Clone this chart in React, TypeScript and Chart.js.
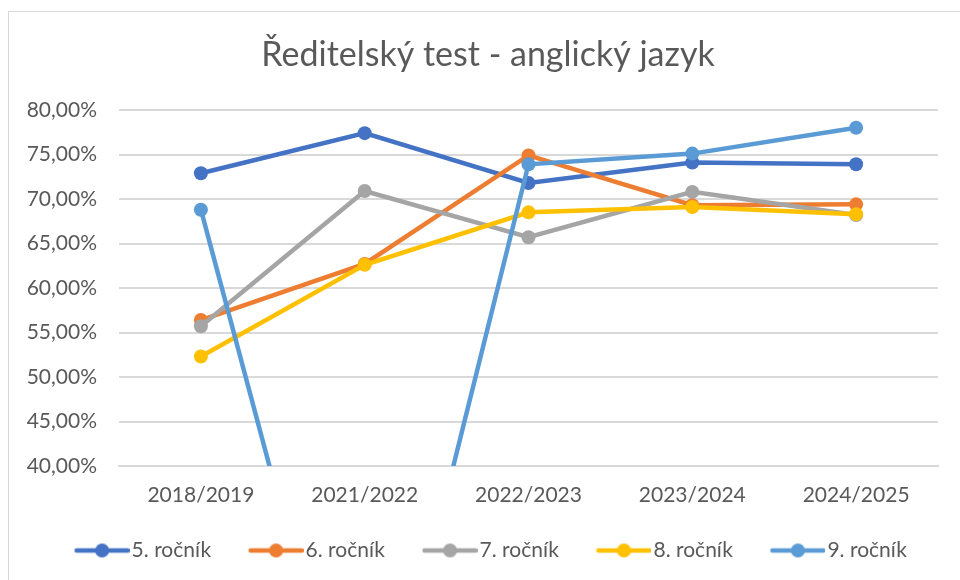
import React, { useEffect, useRef } from "react";
import { Chart, registerables } from "chart.js";

Chart.register(...registerables);

const TITLE = "Ředitelský test - anglický jazyk";
const categories = ["2018/2019", "2021/2022", "2022/2023", "2023/2024", "2024/2025"];
const seriesNames = ["5. ročník", "6. ročník", "7. ročník", "8. ročník", "9. ročník"];
const seriesColors = ["#4472C4", "#ED7D31", "#A5A5A5", "#FFC000", "#5B9BD5"];
const rocnik5 = [72.9, 77.4, 71.8, 74.1, 73.9];
const rocnik6 = [56.4, 62.7, 74.9, 69.3, 69.4];
const rocnik7 = [55.7, 70.9, 65.7, 70.8, 68.2];
const rocnik8 = [52.3, 62.6, 68.5, 69.1, 68.3];
const rocnik9 = [68.8, 0, 73.9, 75.1, 78.0];
const seriesValues = [rocnik5, rocnik6, rocnik7, rocnik8, rocnik9];
const yMin = 40;
const yMax = 80;
const yStep = 5;

const FONT = "Lato, 'Open Sans', sans-serif";
const TEXT = "#595959";
const GRID = "#d9d9d9";

// legend icon: line with a dot; the image is centred on the legend box,
// its visible part sits at the right so it ends right before the text
function legendIcon(color: string): HTMLCanvasElement {
  const c = document.createElement("canvas");
  c.width = 69;
  c.height = 16;
  const ctx = c.getContext("2d")!;
  ctx.strokeStyle = color;
  ctx.lineWidth = 4.5;
  ctx.lineCap = "round";
  ctx.beginPath();
  ctx.moveTo(16, 8);
  ctx.lineTo(67, 8);
  ctx.stroke();
  ctx.fillStyle = color;
  ctx.beginPath();
  ctx.arc(41.5, 8, 7, 0, Math.PI * 2);
  ctx.fill();
  return c;
}

export default function App() {
  const ref = useRef<HTMLCanvasElement | null>(null);

  useEffect(() => {
    if (!ref.current) return;
    const icons = seriesColors.map(legendIcon);
    const chart = new Chart(ref.current, {
      type: "line",
      data: {
        labels: categories,
        datasets: seriesNames.map((name, i) => ({
          label: name,
          data: seriesValues[i],
          borderColor: seriesColors[i],
          backgroundColor: seriesColors[i],
          borderWidth: 4.5,
          pointRadius: 7,
          pointHoverRadius: 7,
          pointBorderWidth: 0,
          pointBackgroundColor: seriesColors[i],
          tension: 0,
          order: seriesNames.length - i,
        })),
      },
      options: {
        responsive: false,
        animation: false,
        layout: { padding: { left: 0, right: 0, top: 0, bottom: 0 } },
        plugins: {
          tooltip: { enabled: false },
          title: {
            display: true,
            text: TITLE,
            color: TEXT,
            font: { family: FONT, size: 34, weight: "normal" },
            padding: { top: 22.6, bottom: 34.6 },
          },
          legend: {
            position: "bottom",
            labels: {
              usePointStyle: true,
              pointStyleWidth: 52,
              padding: 32,
              color: TEXT,
              font: { family: FONT, size: 21 },
              generateLabels: (ch: any) =>
                ch.data.datasets.map((ds: any, i: number) => ({
                  text: ds.label,
                  fillStyle: seriesColors[i],
                  strokeStyle: seriesColors[i],
                  fontColor: TEXT,
                  lineWidth: 0,
                  pointStyle: icons[i],
                  hidden: false,
                  datasetIndex: i,
                })),
            },
          },
        },
        scales: {
          x: {
            type: "category",
            offset: true,
            grid: { display: false, drawTicks: false },
            border: { display: true, color: GRID, width: 2 },
            ticks: { color: TEXT, font: { family: FONT, size: 21 }, padding: 17, maxRotation: 0 },
            afterFit: (s: any) => {
              s.height = 42;
            },
          },
          y: {
            min: yMin,
            max: yMax,
            ticks: {
              stepSize: yStep,
              color: TEXT,
              font: { family: FONT, size: 21 },
              padding: 22,
              callback: (v: any) => Number(v).toFixed(2).replace(".", ",") + "%",
            },
            grid: { color: GRID, lineWidth: 2, drawTicks: false },
            border: { display: false },
            afterFit: (s: any) => {
              s.width = 110;
            },
          },
          yRight: {
            position: "right",
            display: true,
            grid: { display: false, drawTicks: false },
            border: { display: false },
            ticks: { display: false },
            afterFit: (s: any) => {
              s.width = 29;
            },
          },
        },
      } as any,
    });
    return () => chart.destroy();
  }, []);

  return (
    <div style={{ position: "fixed", inset: 0, overflow: "hidden", background: "#fff" }}>
      <div
        style={{
          position: "absolute",
          left: 8,
          top: 11,
          width: 1000,
          height: 620,
          borderLeft: `1px solid ${GRID}`,
          borderTop: `1px solid ${GRID}`,
        }}
      >
        <canvas ref={ref} width={958} height={559} style={{ display: "block", width: 958, height: 559 }} />
      </div>
    </div>
  );
}
